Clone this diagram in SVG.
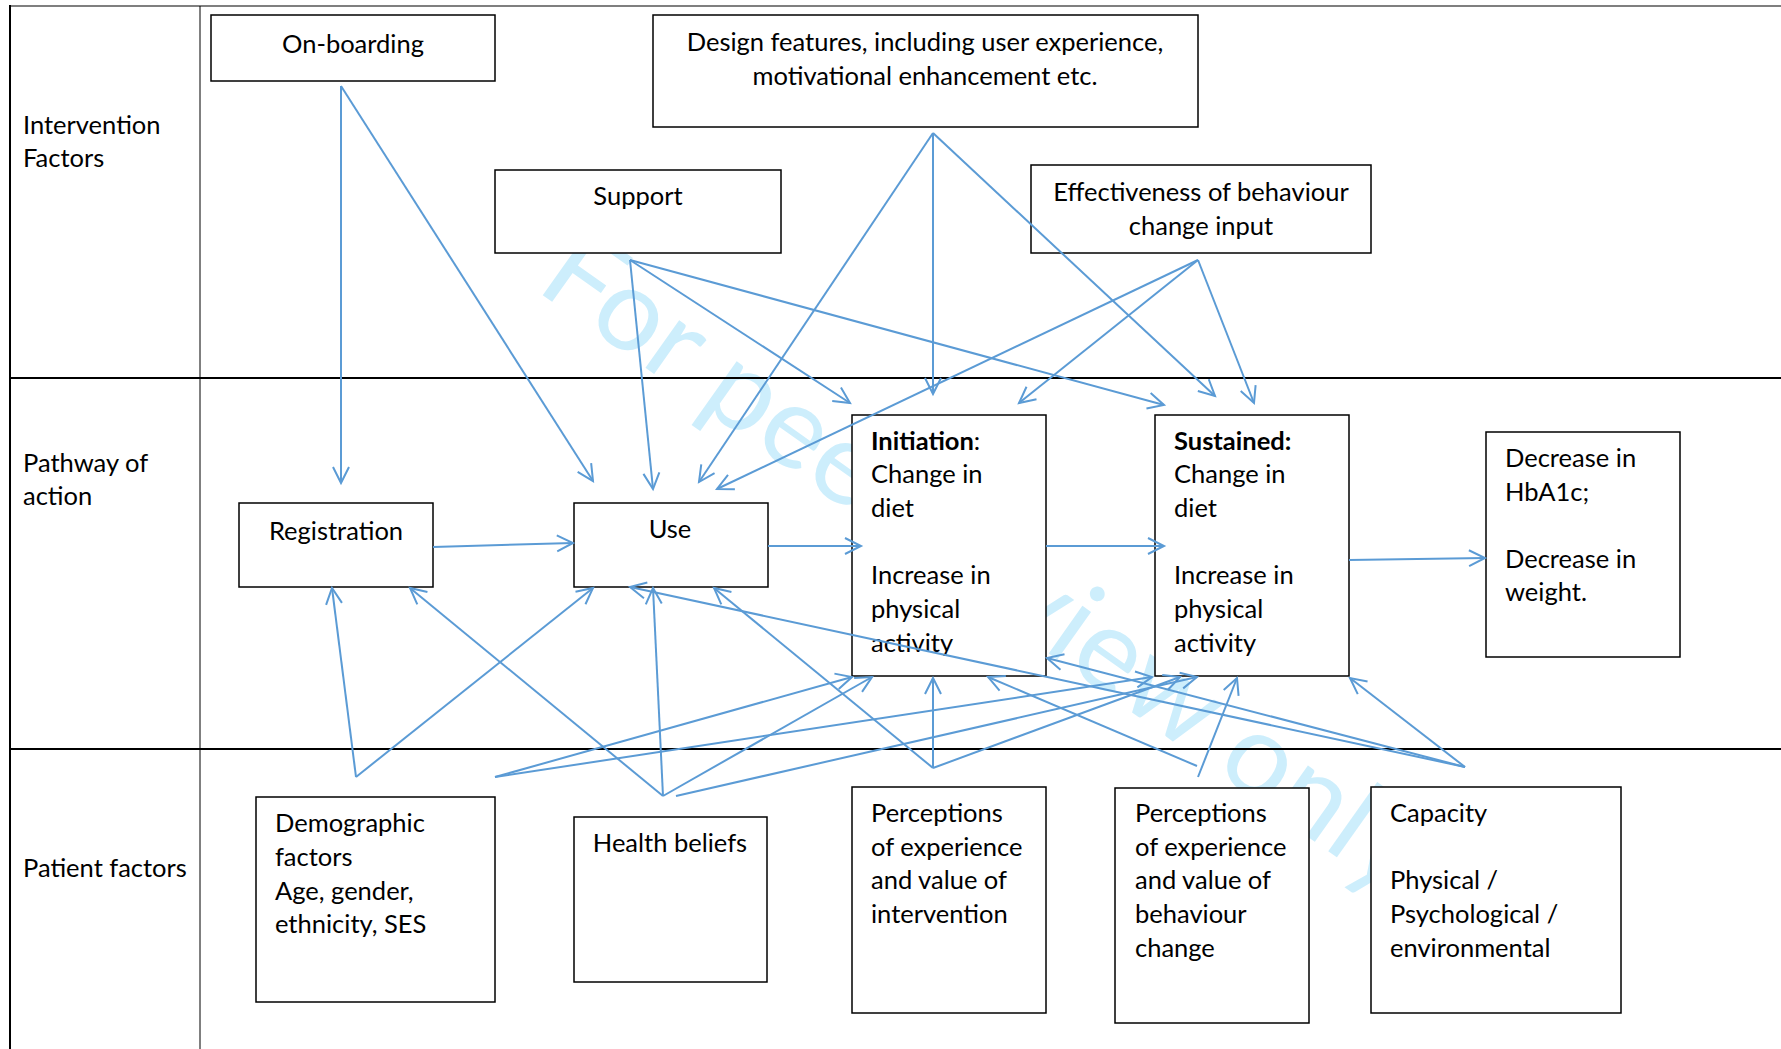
<svg xmlns="http://www.w3.org/2000/svg" width="1781" height="1049" viewBox="0 0 1781 1049">
<style>
text{font-family:Lato,"Liberation Sans",sans-serif;font-size:25.5px;fill:#000}
.c{text-anchor:middle}
.b{font-weight:bold}
.box{fill:#fff;stroke:#000;stroke-width:1.5}
.tl{stroke:#000;fill:none}
.con line{stroke:#5B9BD5;stroke-width:2;fill:none;marker-end:url(#arr)}
.wm{font-size:115px;fill:#cdeefc}
</style>
<defs>
<marker id="arr" markerUnits="userSpaceOnUse" markerWidth="24" markerHeight="24" viewBox="-20 -12 24 24" refX="0" refY="0" orient="auto" overflow="visible">
<path d="M-16,-8 L0,0 L-16,8" fill="none" stroke="#5B9BD5" stroke-width="2"/>
</marker>
</defs>
<rect width="1781" height="1049" fill="#fff"/>
<text class="wm" x="534" y="289" transform="rotate(35.3 534 289)" textLength="1053" lengthAdjust="spacingAndGlyphs">For peer review only</text>
<g id="table">
<line class="tl" x1="10" y1="6" x2="1781" y2="6" stroke-width="1.2"/>
<line class="tl" x1="10" y1="5" x2="10" y2="1049" stroke-width="2"/>
<line class="tl" x1="200" y1="6" x2="200" y2="1049" stroke-width="1"/>
<line class="tl" x1="10" y1="378" x2="1781" y2="378" stroke-width="2"/>
<line class="tl" x1="10" y1="749" x2="1781" y2="749" stroke-width="2"/>
<text x="23" y="134">Intervention</text>
<text x="23" y="167">Factors</text>
<text x="23" y="472">Pathway of</text>
<text x="23" y="505">action</text>
<text x="23" y="877">Patient factors</text>
</g>
<g id="onboarding"><rect class="box" x="211" y="15" width="284" height="66"/><text class="c" x="353" y="53">On-boarding</text></g>
<g id="design"><rect class="box" x="653" y="15" width="545" height="112"/><text class="c" x="925" y="51">Design features, including user experience,</text><text class="c" x="925" y="85">motivational enhancement etc.</text></g>
<g id="support"><rect class="box" x="495" y="170" width="286" height="83"/><text class="c" x="638" y="205">Support</text></g>
<g id="effectiveness"><rect class="box" x="1031" y="165" width="340" height="88"/><text class="c" x="1201" y="201">Effectiveness of behaviour</text><text class="c" x="1201" y="235">change input</text></g>
<g id="registration"><rect class="box" x="239" y="503" width="194" height="84"/><text class="c" x="336" y="540">Registration</text></g>
<g id="use"><rect class="box" x="574" y="503" width="194" height="84"/><text class="c" x="670" y="538">Use</text></g>
<g id="initiation"><rect class="box" x="852" y="415" width="194" height="261"/>
<text x="871" y="450"><tspan class="b">Initiation</tspan>:</text>
<text x="871" y="483">Change in</text><text x="871" y="517">diet</text>
<text x="871" y="584">Increase in</text><text x="871" y="618">physical</text><text x="871" y="652">activity</text></g>
<g id="sustained"><rect class="box" x="1155" y="415" width="194" height="261"/>
<text class="b" x="1174" y="450">Sustained:</text>
<text x="1174" y="483">Change in</text><text x="1174" y="517">diet</text>
<text x="1174" y="584">Increase in</text><text x="1174" y="618">physical</text><text x="1174" y="652">activity</text></g>
<g id="outcome"><rect class="box" x="1486" y="432" width="194" height="225"/>
<text x="1505" y="467">Decrease in</text><text x="1505" y="501">HbA1c;</text>
<text x="1505" y="568">Decrease in</text><text x="1505" y="601">weight.</text></g>
<g id="demographic"><rect class="box" x="256" y="797" width="239" height="205"/>
<text x="275" y="832">Demographic</text><text x="275" y="866">factors</text><text x="275" y="900">Age, gender,</text><text x="275" y="933">ethnicity, SES</text></g>
<g id="health"><rect class="box" x="574" y="817" width="193" height="165"/><text class="c" x="670" y="852">Health beliefs</text></g>
<g id="perc-intervention"><rect class="box" x="852" y="787" width="194" height="226"/>
<text x="871" y="822">Perceptions</text><text x="871" y="856">of experience</text><text x="871" y="889">and value of</text><text x="871" y="923">intervention</text></g>
<g id="perc-behaviour"><rect class="box" x="1115" y="788" width="194" height="235"/>
<text x="1135" y="822">Perceptions</text><text x="1135" y="856">of experience</text><text x="1135" y="889">and value of</text><text x="1135" y="923">behaviour</text><text x="1135" y="957">change</text></g>
<g id="capacity"><rect class="box" x="1371" y="787" width="250" height="226"/>
<text x="1390" y="822">Capacity</text><text x="1390" y="889">Physical /</text><text x="1390" y="923">Psychological /</text><text x="1390" y="957">environmental</text></g>
<g id="connectors" class="con">
<line x1="341" y1="86" x2="341" y2="483"/>
<line x1="341" y1="86" x2="593" y2="481"/>
<line x1="630" y1="260" x2="653" y2="489"/>
<line x1="630" y1="260" x2="850" y2="403"/>
<line x1="630" y1="260" x2="1164" y2="405"/>
<line x1="933" y1="133" x2="699" y2="482"/>
<line x1="933" y1="133" x2="933" y2="394"/>
<line x1="933" y1="133" x2="1215" y2="396"/>
<line x1="1198" y1="260" x2="717" y2="489"/>
<line x1="1198" y1="260" x2="1019" y2="403"/>
<line x1="1198" y1="260" x2="1254" y2="403"/>
<line x1="433" y1="547" x2="573" y2="543"/>
<line x1="768" y1="546" x2="861" y2="546"/>
<line x1="1046" y1="546" x2="1164" y2="546"/>
<line x1="1349" y1="560" x2="1485" y2="558"/>
<line x1="356" y1="777" x2="332" y2="588"/>
<line x1="356" y1="777" x2="593" y2="588"/>
<line x1="495" y1="777" x2="852" y2="677"/>
<line x1="495" y1="777" x2="1152" y2="677"/>
<line x1="663" y1="796" x2="410" y2="588"/>
<line x1="663" y1="796" x2="653" y2="588"/>
<line x1="663" y1="796" x2="872" y2="677"/>
<line x1="676" y1="796" x2="1197" y2="677"/>
<line x1="933" y1="768" x2="714" y2="588"/>
<line x1="933" y1="768" x2="933" y2="678"/>
<line x1="933" y1="768" x2="1180" y2="677"/>
<line x1="1197" y1="766" x2="988" y2="677"/>
<line x1="1198" y1="777" x2="1237" y2="678"/>
<line x1="1465" y1="767" x2="1350" y2="678"/>
<line x1="1465" y1="767" x2="630" y2="587"/>
<line x1="1465" y1="767" x2="1047" y2="658"/>
</g>
</svg>
